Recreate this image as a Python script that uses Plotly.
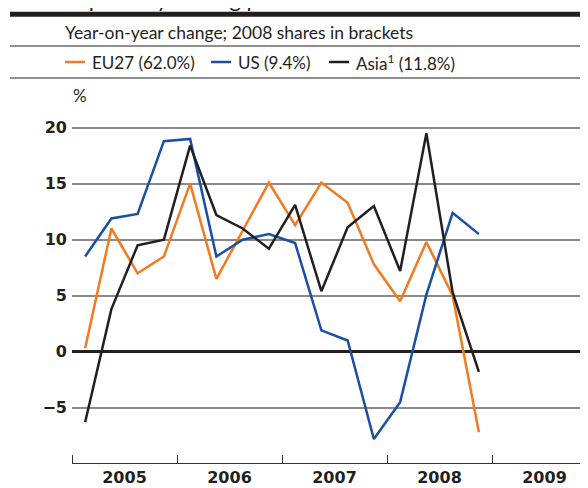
import plotly.graph_objects as go

# ---------------- data ----------------
quarters = ["2005 Q1", "2005 Q2", "2005 Q3", "2005 Q4",
            "2006 Q1", "2006 Q2", "2006 Q3", "2006 Q4",
            "2007 Q1", "2007 Q2", "2007 Q3", "2007 Q4",
            "2008 Q1", "2008 Q2", "2008 Q3", "2008 Q4"]
eu27 = [0.3, 11.0, 7.0, 8.5, 15.0, 6.5, 10.8, 15.1,
        11.3, 15.1, 13.3, 7.8, 4.5, 9.8, 5.0, -7.2]
us = [8.5, 11.9, 12.3, 18.8, 19.0, 8.5, 10.0, 10.5,
      9.7, 1.9, 1.0, -7.8, -4.5, 5.1, 12.4, 10.5]
asia = [-6.3, 3.8, 9.5, 10.0, 18.4, 12.2, 11.0, 9.2,
        13.1, 5.4, 11.1, 13.0, 7.2, 19.5, 5.3, -1.8]
series_names = ["EU27 (62.0%)", "US (9.4%)", "Asia<sup>1</sup> (11.8%)"]
series_colors = ["#f47a20", "#1a4fa3", "#231f20"]
year_labels = ["2005", "2006", "2007", "2008", "2009"]
y_ticks = [-5, 0, 5, 10, 15, 20]
title_text = "Exports by trading partner"
subtitle_text = "Year-on-year change; 2008 shares in brackets"
unit_text = "%"

# quarter label -> position on a continuous year axis (centre of quarter)
def qpos(label):
    y, q = label.split(" Q")
    return int(y) + (int(q) - 0.5) / 4

xq = [qpos(q) for q in quarters]
years = [int(y) for y in year_labels]

# ---------------- geometry ----------------
# page pixels (the html body has an 8px margin, so figure = page - 8)
OFF = 8
W, H = 588 - OFF, 488 - OFF
L, R, T, B = 72, 588, 110, 463   # plot area edges in page pixels
ZERO_Y, PX_PER_UNIT = 351.7, 11.2
FONT = "Lato"

def px(x):
    return (x - L) / (R - L)

def py(y):
    return (B - y) / (B - T)

fig = go.Figure()
for vals, name, col in zip([eu27, us, asia], series_names, series_colors):
    fig.add_trace(go.Scatter(x=xq, y=vals, mode="lines", name=name,
                             line=dict(color=col, width=2.5),
                             showlegend=False))

x_end = years[0] + (R - L) / 105.0
tickfont = dict(family="DejaVu Sans", size=16, color="#231f20", weight="bold")
fig.update_layout(
    width=W, height=H,
    margin=dict(l=L - OFF, r=(588 - R), t=T - OFF, b=H - (B - OFF)),
    paper_bgcolor="white", plot_bgcolor="white",
    font=dict(family=FONT, color="#231f20"),
    xaxis=dict(range=[years[0], x_end], showgrid=False, zeroline=False,
               showline=True, linecolor="#333333", linewidth=1.3,
               tickvals=[y + 0.5 for y in years], ticktext=year_labels,
               ticks="", tickfont=tickfont, ticklabelstandoff=0,
               minor=dict(tickvals=years, ticks="inside", ticklen=8,
                          tickwidth=1.3, tickcolor="#333333", showgrid=False),
               automargin=False, fixedrange=True),
    yaxis=dict(range=[(ZERO_Y - B) / PX_PER_UNIT, (ZERO_Y - T) / PX_PER_UNIT],
               tickvals=y_ticks,
               ticktext=[("\u2212" + str(-v)) if v < 0 else str(v) for v in y_ticks],
               showgrid=True, gridcolor="#8a8a8a", gridwidth=1.6,
               zeroline=True, zerolinecolor="#231f20", zerolinewidth=2.6,
               showline=False, ticks="", tickfont=tickfont,
               ticklabelstandoff=4, automargin=False, fixedrange=True),
)

shapes = []
# header rules
shapes.append(dict(type="rect", xref="paper", yref="paper",
                   x0=px(10), x1=px(600), y0=py(16.7), y1=py(11.7),
                   fillcolor="#231f20", line=dict(width=0), layer="above"))
for yy in [46, 78]:
    shapes.append(dict(type="line", xref="paper", yref="paper",
                       x0=px(10), x1=px(600), y0=py(yy), y1=py(yy),
                       line=dict(color="#231f20", width=1.2)))
# legend swatches
leg_x = [65, 211, 329]
leg_tx = [92, 238, 356]
for x0, col in zip(leg_x, series_colors):
    shapes.append(dict(type="line", xref="paper", yref="paper",
                       x0=px(x0), x1=px(x0 + 20), y0=py(62), y1=py(62),
                       line=dict(color=col, width=2.5)))
fig.update_layout(shapes=shapes)

ann = []
ann.append(dict(text=title_text, xref="paper", yref="paper", x=px(63), y=py(14),
                xanchor="left", yanchor="bottom", showarrow=False,
                font=dict(family=FONT, size=22, color="#231f20")))
ann.append(dict(text=subtitle_text, xref="paper", yref="paper", x=px(63), y=py(32),
                xanchor="left", yanchor="middle", showarrow=False,
                font=dict(family=FONT, size=17.5, color="#231f20")))
for tx, name in zip(leg_tx, series_names):
    ann.append(dict(text=name, xref="paper", yref="paper", x=px(tx - 2), y=py(62),
                    xanchor="left", yanchor="middle", showarrow=False,
                    font=dict(family=FONT, size=17, color="#231f20")))
ann.append(dict(text=unit_text, xref="paper", yref="paper", x=px(71), y=py(95),
                xanchor="left", yanchor="middle", showarrow=False,
                font=dict(family=FONT, size=17, color="#231f20")))
fig.update_layout(annotations=ann)

fig.write_html("out.html")
